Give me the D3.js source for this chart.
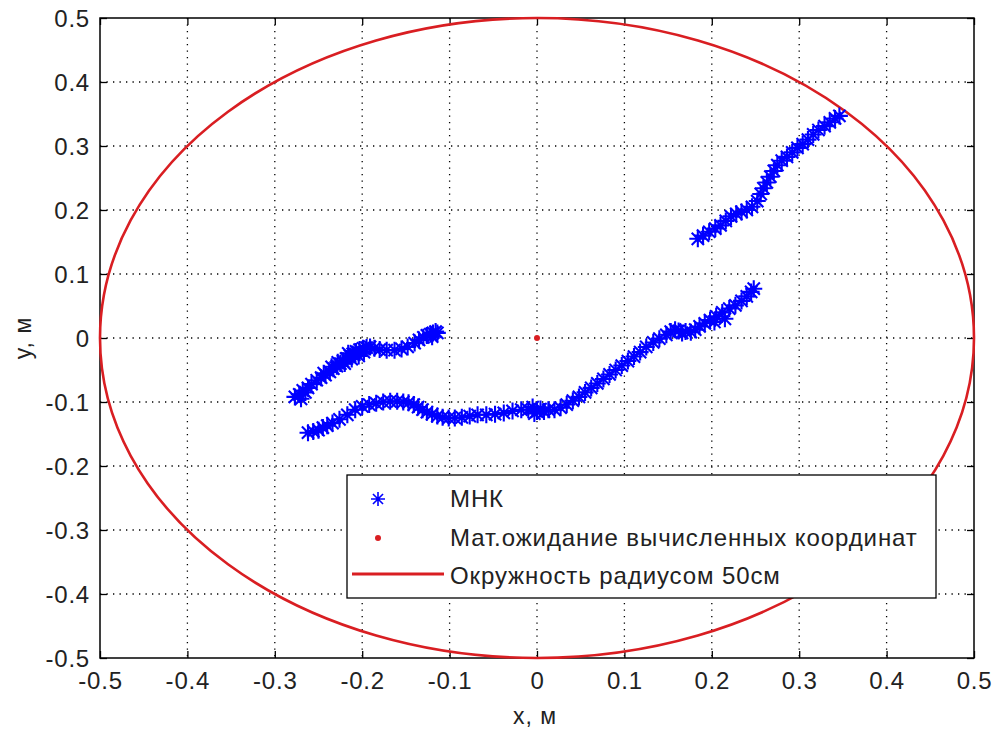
<!DOCTYPE html>
<html><head><meta charset="utf-8">
<script src="https://cdn.jsdelivr.net/npm/d3@7"></script>
<style>
html,body{margin:0;padding:0;background:#fff;}
svg{display:block;}
text{font-family:"Liberation Sans",Arial,sans-serif;fill:#222;}
</style></head><body>
<svg id="chart" width="997" height="733"></svg>
<script>
// ---------- data ----------
const xTicks = [-0.5,-0.4,-0.3,-0.2,-0.1,0,0.1,0.2,0.3,0.4,0.5];
const yTicks = [-0.5,-0.4,-0.3,-0.2,-0.1,0,0.1,0.2,0.3,0.4,0.5];
const xTickLabels = ["-0.5","-0.4","-0.3","-0.2","-0.1","0","0.1","0.2","0.3","0.4","0.5"];
const yTickLabels = ["-0.5","-0.4","-0.3","-0.2","-0.1","0","0.1","0.2","0.3","0.4","0.5"];
const circleRadius = 0.5;
const meanPoint = [0, 0];
const legendLabels = ["МНК","Мат.ожидание вычисленных координат","Окружность радиусом 50см"];

const mnkStrandA = [
 [-0.277,-0.092],[-0.272,-0.088],[-0.270,-0.095],[-0.268,-0.082],[-0.265,-0.085],[-0.262,-0.078],
 [-0.258,-0.072],[-0.252,-0.066],[-0.247,-0.062],[-0.244,-0.055],[-0.242,-0.058],[-0.237,-0.053],
 [-0.235,-0.045],[-0.233,-0.048],[-0.229,-0.044],[-0.228,-0.038],[-0.225,-0.040],[-0.222,-0.036],
 [-0.220,-0.040],[-0.218,-0.032],[-0.216,-0.024],[-0.214,-0.028],[-0.212,-0.033],[-0.211,-0.025],
 [-0.209,-0.026],[-0.207,-0.021],[-0.204,-0.028],[-0.203,-0.018],[-0.199,-0.016],[-0.198,-0.022],
 [-0.195,-0.015],[-0.191,-0.014],[-0.186,-0.016],[-0.180,-0.018],[-0.172,-0.019],[-0.163,-0.019],
 [-0.155,-0.017],[-0.148,-0.014],[-0.140,-0.008],[-0.135,-0.003],[-0.130,0.001],[-0.126,0.004],
 [-0.122,0.006],[-0.120,0.002],[-0.119,0.008],[-0.116,0.010],[-0.114,0.008]
];
const mnkStrandB = [
 [-0.262,-0.148],[-0.256,-0.146],[-0.250,-0.144],[-0.245,-0.140],[-0.240,-0.137],[-0.234,-0.133],
 [-0.226,-0.127],[-0.217,-0.120],[-0.208,-0.112],[-0.200,-0.107],[-0.192,-0.104],[-0.184,-0.102],
 [-0.176,-0.100],[-0.168,-0.099],[-0.160,-0.099],[-0.153,-0.100],[-0.147,-0.101],[-0.141,-0.104],
 [-0.136,-0.108],[-0.131,-0.112],[-0.126,-0.116],[-0.120,-0.119],[-0.114,-0.122],[-0.108,-0.124],
 [-0.101,-0.125],[-0.094,-0.125],[-0.086,-0.124],[-0.077,-0.122],[-0.068,-0.120],[-0.058,-0.120],
 [-0.048,-0.119],[-0.038,-0.117],[-0.028,-0.114],[-0.018,-0.112],[-0.010,-0.112],[-0.005,-0.108],
 [-0.003,-0.118],[0.000,-0.115],[0.004,-0.111],[0.008,-0.115],[0.013,-0.112],[0.020,-0.112],
 [0.027,-0.109],[0.034,-0.104],[0.041,-0.098],[0.048,-0.092],[0.055,-0.085],[0.062,-0.078],
 [0.069,-0.071],[0.076,-0.064],[0.083,-0.057],[0.090,-0.050],[0.097,-0.043],[0.104,-0.036],
 [0.111,-0.029],[0.118,-0.022],[0.125,-0.014],[0.133,-0.007],[0.140,-0.001],[0.148,0.005],
 [0.153,0.010],[0.158,0.013],[0.162,0.011],[0.166,0.008],[0.170,0.010],[0.176,0.009],
 [0.181,0.013],[0.186,0.018],[0.192,0.023],[0.198,0.028],[0.203,0.025],[0.205,0.034],
 [0.212,0.040],[0.215,0.030],[0.220,0.046],[0.227,0.051],[0.234,0.058],[0.240,0.065],
 [0.245,0.072],[0.248,0.077]
];
const mnkStrandC = [
 [0.184,0.155],[0.190,0.160],[0.197,0.166],[0.204,0.171],[0.210,0.176],[0.216,0.183],
 [0.222,0.190],[0.228,0.194],[0.234,0.197],[0.240,0.200],[0.246,0.205],[0.252,0.214],
 [0.256,0.225],[0.259,0.234],[0.263,0.243],[0.267,0.252],[0.271,0.261],[0.275,0.270],
 [0.280,0.277],[0.286,0.283],[0.292,0.290],[0.298,0.297],[0.304,0.303],[0.310,0.310],
 [0.316,0.318],[0.322,0.325],[0.329,0.331],[0.335,0.337],[0.341,0.343],[0.346,0.347]
];

// ---------- layout ----------
const svg = d3.select("#chart");
const L = 100, R = 974, T = 18, B = 658;
const x = d3.scaleLinear().domain([-0.5,0.5]).range([L,R]);
const y = d3.scaleLinear().domain([-0.5,0.5]).range([B,T]);
const blue = "#0000ff", red = "#d91e22";
const fontFam = "'Liberation Sans',Arial,sans-serif";

// grid
const grid = svg.append("g").attr("stroke","#000").attr("stroke-width",1.3).attr("stroke-dasharray","1.3,5.2");
grid.selectAll(".gx").data(xTicks.slice(1,-1)).join("line")
  .attr("x1",d=>x(d)).attr("x2",d=>x(d)).attr("y1",T).attr("y2",B);
grid.selectAll(".gy").data(yTicks.slice(1,-1)).join("line")
  .attr("y1",d=>y(d)).attr("y2",d=>y(d)).attr("x1",L).attr("x2",R);

// axes (ticks inside)
const tk = 7;
const fmtX = (d,i)=>xTickLabels[i], fmtY = (d,i)=>yTickLabels[i];
const axB = svg.append("g").attr("transform",`translate(0,${B})`)
  .call(d3.axisBottom(x).tickValues(xTicks).tickFormat(fmtX).tickSizeInner(-tk).tickSizeOuter(0).tickPadding(14));
const axT = svg.append("g").attr("transform",`translate(0,${T})`)
  .call(d3.axisTop(x).tickValues(xTicks).tickFormat("").tickSizeInner(-tk).tickSizeOuter(0));
const axL = svg.append("g").attr("transform",`translate(${L},0)`)
  .call(d3.axisLeft(y).tickValues(yTicks).tickFormat(fmtY).tickSizeInner(-tk).tickSizeOuter(0).tickPadding(10));
const axR = svg.append("g").attr("transform",`translate(${R},0)`)
  .call(d3.axisRight(y).tickValues(yTicks).tickFormat("").tickSizeInner(-tk).tickSizeOuter(0));
[axB,axT,axL,axR].forEach(a=>{
  a.select(".domain").remove();
  a.selectAll(".tick line").attr("stroke","#000").attr("stroke-width",1.3);
  a.selectAll("text").attr("font-size",24).attr("fill","#222").attr("letter-spacing","0.8px")
   .style("font-family",fontFam);
});
axL.selectAll("text").attr("dy","0.35em");

svg.append("rect").attr("x",L).attr("y",T).attr("width",R-L).attr("height",B-T)
  .attr("fill","none").attr("stroke","#000").attr("stroke-width",1.5);

// circle
svg.append("ellipse").attr("cx",x(0)).attr("cy",y(0))
  .attr("rx",x(circleRadius)-x(0)).attr("ry",y(0)-y(circleRadius))
  .attr("fill","none").attr("stroke",red).attr("stroke-width",2.6);

// asterisk marker
function star(g, cx, cy, s, w){
  const a = s, b = s*0.72;
  g.append("path").attr("transform",`translate(${cx},${cy})`)
   .attr("d",`M${-a},0H${a}M0,${-a}V${a}M${-b},${-b}L${b},${b}M${-b},${b}L${b},${-b}`)
   .attr("stroke",blue).attr("stroke-width",w).attr("fill","none");
}
const pts = svg.append("g");
[mnkStrandA, mnkStrandB, mnkStrandC].forEach(s=>s.forEach(p=>star(pts, x(p[0]), y(p[1]), 8.5, 2.1)));

// mean point
svg.append("circle").attr("cx",x(meanPoint[0])).attr("cy",y(meanPoint[1])).attr("r",3).attr("fill",red);

// legend
const lg = svg.append("g");
lg.append("rect").attr("x",347).attr("y",475).attr("width",589).attr("height",123)
  .attr("fill","#fff").attr("stroke","#000").attr("stroke-width",1.3);
const rowsY = [499,538,576];
star(lg, 378, rowsY[0], 7, 1.6);
lg.append("circle").attr("cx",378).attr("cy",rowsY[1]).attr("r",3).attr("fill",red);
lg.append("line").attr("x1",352).attr("x2",444).attr("y1",rowsY[2]-2).attr("y2",rowsY[2]-2)
  .attr("stroke",red).attr("stroke-width",2.8);
lg.selectAll("text.lt").data(legendLabels).join("text").attr("class","lt")
  .attr("x",450).attr("y",(d,i)=>rowsY[i]).attr("dy","0.35em").attr("font-size",24)
  .attr("letter-spacing","0.9px").text(d=>d);

// axis labels
svg.append("text").attr("x",535).attr("y",716).attr("dy","0.35em").attr("text-anchor","middle")
  .attr("font-size",23).attr("letter-spacing","1px").text("x, м");
svg.append("text").attr("transform",`translate(23,${y(0)}) rotate(-90)`).attr("dy","0.35em")
  .attr("text-anchor","middle").attr("font-size",23).attr("letter-spacing","1px").text("y, м");
</script></body></html>
